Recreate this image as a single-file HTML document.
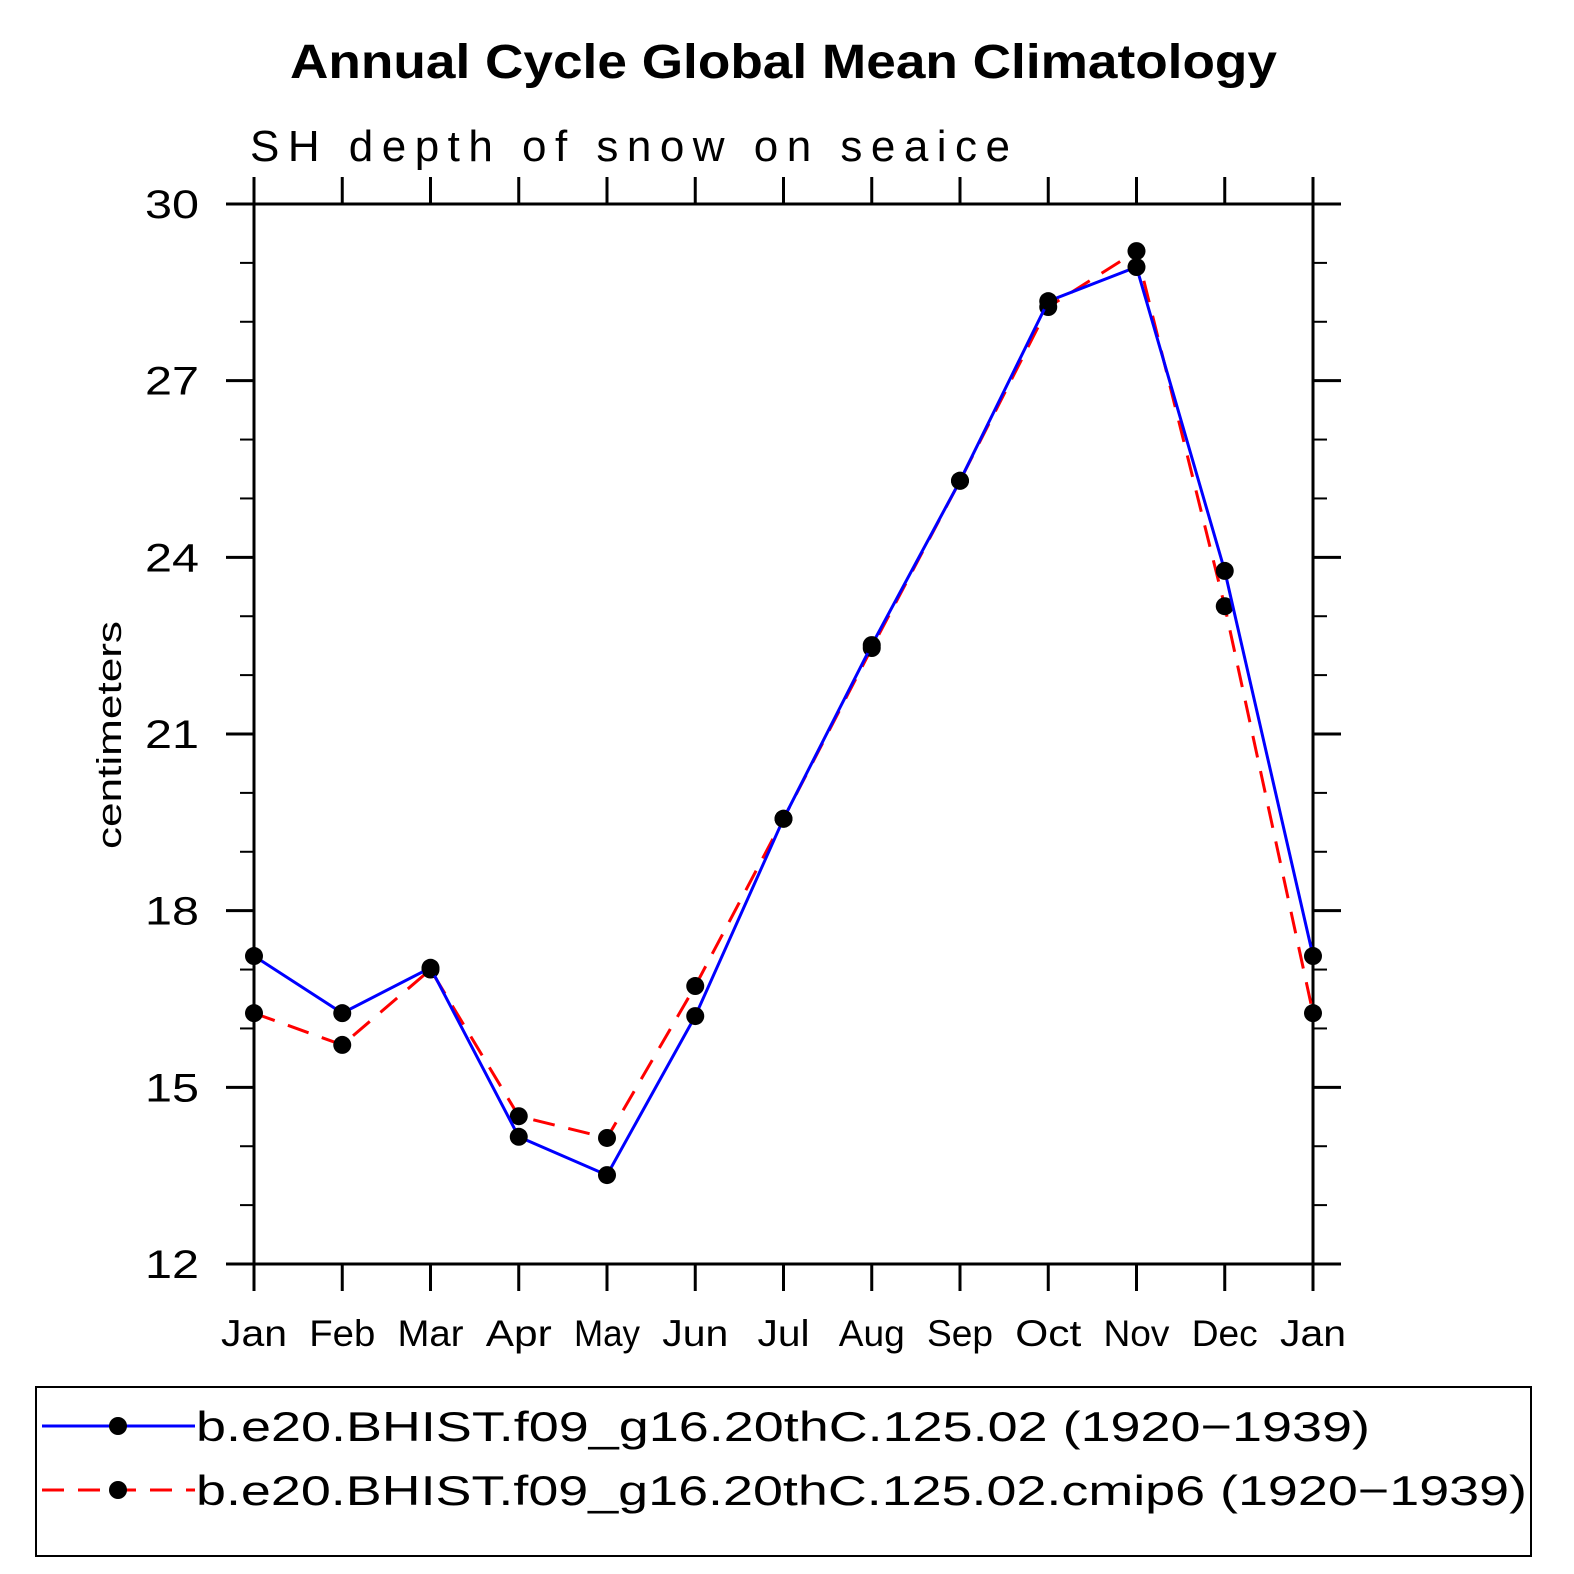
<!DOCTYPE html>
<html><head><meta charset="utf-8"><style>html,body{margin:0;background:#fff;overflow:hidden}svg{display:block}</style></head>
<body>
<svg id="chart" width="1574" height="1574" xmlns="http://www.w3.org/2000/svg" font-family="Liberation Sans, sans-serif">
<text x="290" y="78" font-size="48" font-weight="bold" textLength="987" lengthAdjust="spacingAndGlyphs">Annual Cycle Global Mean Climatology</text>
<text x="250" y="161" font-size="44" textLength="760" lengthAdjust="spacing">SH depth of snow on seaice</text>
<text transform="translate(121,735) rotate(-90)" text-anchor="middle" font-size="34" textLength="228" lengthAdjust="spacingAndGlyphs">centimeters</text>
<rect x="254" y="204" width="1059" height="1060" fill="none" stroke="#000" stroke-width="3"/>
<g id="axes"></g>
<g id="series"></g>
<rect x="36" y="1387" width="1495" height="169" fill="none" stroke="#000" stroke-width="2"/>
<g>
<line x1="42" y1="1426" x2="195" y2="1426" stroke="#00f" stroke-width="3"/>
<circle cx="118" cy="1426" r="9"/>
<text x="196" y="1441" font-size="42" textLength="1174" lengthAdjust="spacingAndGlyphs">b.e20.BHIST.f09_g16.20thC.125.02 (1920−1939)</text>
</g>
<g>
<line x1="42" y1="1490" x2="195" y2="1490" stroke="#f00" stroke-width="3" stroke-dasharray="22,14"/>
<circle cx="118" cy="1490" r="9"/>
<text x="196" y="1505" font-size="42" textLength="1331" lengthAdjust="spacingAndGlyphs">b.e20.BHIST.f09_g16.20thC.125.02.cmip6 (1920−1939)</text>
</g>
</svg>
<script>
const months=["Jan","Feb","Mar","Apr","May","Jun","Jul","Aug","Sep","Oct","Nov","Dec","Jan"];
const blueValues=[17.23,16.26,17.03,14.16,13.51,16.21,19.56,22.51,25.3,28.35,28.93,23.77,17.23];
const redValues=[16.26,15.72,17.0,14.51,14.14,16.72,19.56,22.46,25.3,28.25,29.2,23.17,16.26];
const yTicks=[12,15,18,21,24,27,30];
const NS="http://www.w3.org/2000/svg";
const x=i=>254+i*(1059/12);
const y=v=>1264-(v-12)*(1060/18);
const axes=document.getElementById('axes'),series=document.getElementById('series');
function mk(t,a,p){const e=document.createElementNS(NS,t);for(const k in a)e.setAttribute(k,a[k]);p.appendChild(e);return e;}
months.forEach((m,i)=>{
  const X=x(i);
  mk('line',{x1:X,y1:1264,x2:X,y2:1291,stroke:'#000','stroke-width':3},axes);
  mk('line',{x1:X,y1:204,x2:X,y2:177,stroke:'#000','stroke-width':3},axes);
  const t=mk('text',{x:X,y:1346,'text-anchor':'middle','font-size':37,textLength:(m==="Jul"?52:66),lengthAdjust:'spacingAndGlyphs'},axes);
  t.textContent=m;
  
  
});
for(let v=12;v<=30;v++){
  const Y=y(v),maj=(v%3===0),L=maj?28:14;
  mk('line',{x1:254-L,y1:Y,x2:254,y2:Y,stroke:'#000','stroke-width':maj?3:2},axes);
  mk('line',{x1:1313,y1:Y,x2:1313+L,y2:Y,stroke:'#000','stroke-width':maj?3:2},axes);
}
yTicks.forEach(v=>{
  const t=mk('text',{x:199,y:y(v)+14,'text-anchor':'end','font-size':40,textLength:54,lengthAdjust:'spacingAndGlyphs'},axes);
  t.textContent=v;
  
  
});
function draw(vals,color,dash,name){
  const pl=mk('polyline',{points:vals.map((v,i)=>x(i)+','+y(v)).join(' '),fill:'none',stroke:color,'stroke-width':3,'stroke-dasharray':dash},series);
  
  
  vals.forEach((v,i)=>{
    const c=mk('circle',{cx:x(i),cy:y(v),r:9,fill:'#000'},series);
    
    
  });
}
draw(redValues,'#f00','22,14','red-series');
draw(blueValues,'#00f','none','blue-series');
</script>
</body></html>
